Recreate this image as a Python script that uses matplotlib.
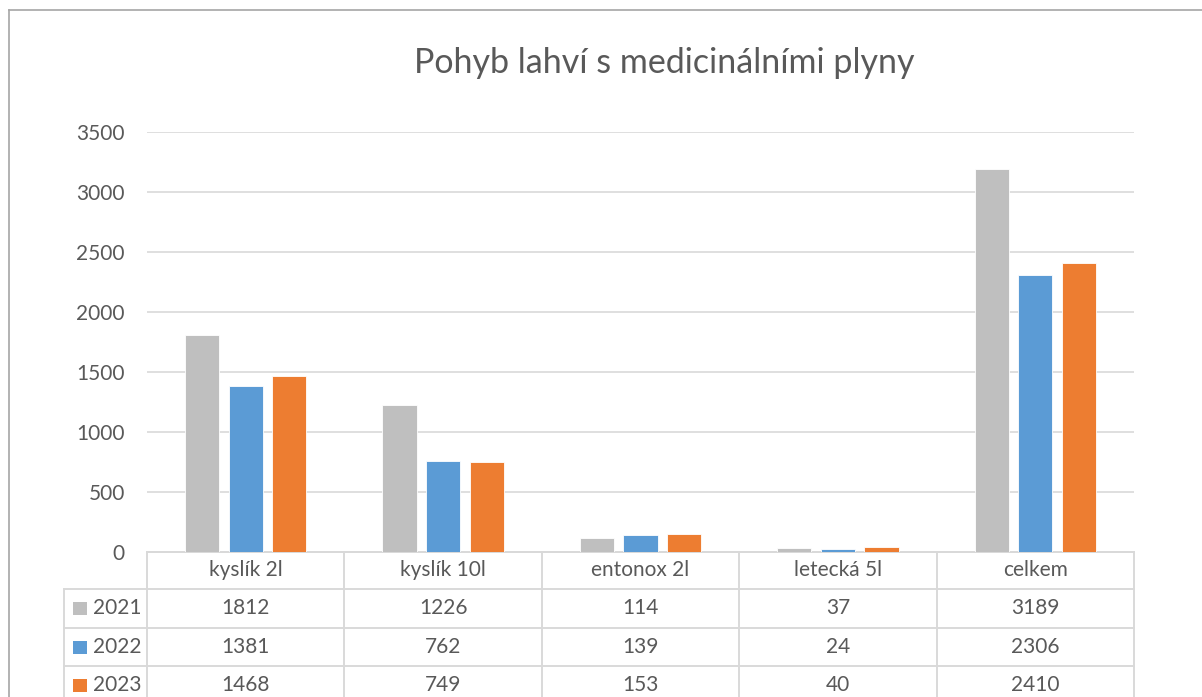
import matplotlib
matplotlib.use("Agg")
import matplotlib.pyplot as plt
from matplotlib.transforms import blended_transform_factory
from matplotlib.lines import Line2D
from matplotlib.patches import Rectangle

categories = ["kyslík 2l", "kyslík 10l", "entonox 2l", "letecká 5l", "celkem"]
series_names = ["2021", "2022", "2023"]
values_2021 = [1812, 1226, 114, 37, 3189]
values_2022 = [1381, 762, 139, 24, 2306]
values_2023 = [1468, 749, 153, 40, 2410]
colors = ["#BFBFBF", "#5B9BD5", "#ED7D31"]
yticks = [0, 500, 1000, 1500, 2000, 2500, 3000, 3500]
title = "Pohyb lahví s medicinálními plyny"

plt.rcParams['font.family'] = ['Lato', 'DejaVu Sans']
TXT = "#595959"
GRID = "#D9D9D9"

W, H = 1202, 697
fig = plt.figure(figsize=(W / 100, H / 100), dpi=100)
fig.patch.set_facecolor("white")

L, R, T, B = 147, 1134, 132, 552
ax = fig.add_axes([L / W, 1 - B / H, (R - L) / W, (B - T) / H])
n = len(categories)
ax.set_xlim(-0.5, n - 0.5)
ax.set_ylim(0, 3500)

series = [values_2021, values_2022, values_2023]
bw = 0.174
step = 0.221
for i, (vals, c) in enumerate(zip(series, colors)):
    xs = [k + (i - 1) * step for k in range(n)]
    ax.bar(xs, vals, width=bw, color=c, edgecolor="white", linewidth=0.6, zorder=3)

ax.set_yticks(yticks)
ax.set_yticklabels([str(v) for v in yticks])
ax.tick_params(axis="y", length=0, pad=16, labelsize=15, labelcolor=TXT)
ax.set_xticks([])
ax.grid(axis="y", color=GRID, linewidth=1.2, zorder=0)
for s in ["top", "right", "left"]:
    ax.spines[s].set_visible(False)
ax.spines["bottom"].set_color(GRID)
ax.spines["bottom"].set_linewidth(1.4)
ax.set_axisbelow(True)

# Title
fig.text(664 / W, 1 - 73 / H, title, ha="center", va="baseline", fontsize=24.5, color=TXT)

# Data table
ph = B - T
def ya(py):
    return (B - py) / ph
def xd(px):
    return -0.5 + (px - L) / (R - L) * n

tr = blended_transform_factory(ax.transData, ax.transAxes)
row_edges = [552, 589, 628, 666, 704]
leg_left = 64
lkw = dict(color=GRID, linewidth=1.4, transform=tr, clip_on=False)
ax.add_line(Line2D([-0.5, n - 0.5], [ya(row_edges[0])] * 2, **lkw))
for ry in row_edges[1:]:
    ax.add_line(Line2D([xd(leg_left), n - 0.5], [ya(ry)] * 2, **lkw))
for k in range(n + 1):
    ax.add_line(Line2D([k - 0.5] * 2, [ya(row_edges[0]), ya(row_edges[-1])], **lkw))
ax.add_line(Line2D([xd(leg_left)] * 2, [ya(row_edges[1]), ya(row_edges[-1])], **lkw))

hy = ya((row_edges[0] + row_edges[1]) / 2)
for k, cat in enumerate(categories):
    ax.text(k, hy, cat, ha="center", va="center", fontsize=15, color=TXT, transform=tr)
for i, (name, vals, c) in enumerate(zip(series_names, series, colors)):
    cy = ya((row_edges[i + 1] + row_edges[i + 2]) / 2)
    for k, v in enumerate(vals):
        ax.text(k, cy, str(v), ha="center", va="center", fontsize=15, color=TXT, transform=tr)
    sq = Rectangle((xd(73), cy - 6.5 / ph), (xd(87) - xd(73)), 13 / ph, facecolor=c,
                   edgecolor="none", transform=tr, clip_on=False)
    ax.add_patch(sq)
    ax.text(xd(93), cy, name, ha="left", va="center", fontsize=15, color=TXT, transform=tr)

bc = "#A6A6A6"
fig.add_artist(Line2D([8.5 / W, 1.0], [1 - 9.5 / H] * 2, color=bc, linewidth=1.2, transform=fig.transFigure))
fig.add_artist(Line2D([8.5 / W] * 2, [0, 1 - 9.5 / H], color=bc, linewidth=1.2, transform=fig.transFigure))

fig.savefig("out.png", dpi=100)
